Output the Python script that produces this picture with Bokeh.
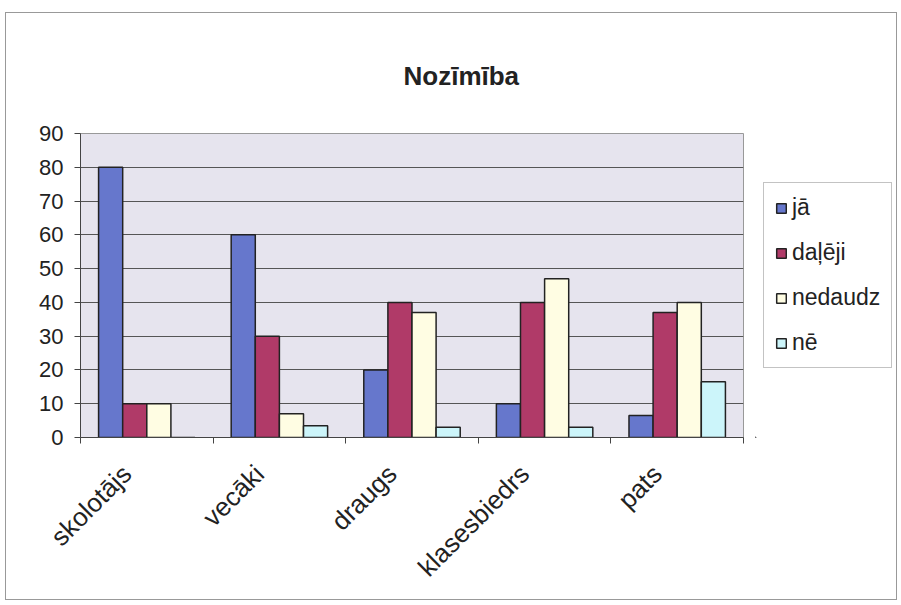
from math import pi
from bokeh.plotting import figure
from bokeh.layouts import row
from bokeh.models import (Range1d, Legend, LegendItem, FixedTicker, ColumnDataSource, LinearAxis)
from bokeh.transform import dodge
from bokeh.embed import file_html
from bokeh.resources import INLINE

categories = ["skolotājs", "vecāki", "draugs", "klasesbiedrs", "pats"]
series_names = ["jā", "daļēji", "nedaudz", "nē"]
ja = [80, 60, 20, 10, 6.5]
daleji = [10, 30, 40, 40, 37]
nedaudz = [10, 7, 37, 47, 40]
ne = [0, 3.5, 3, 3, 16.5]
y_ticks = [0, 10, 20, 30, 40, 50, 60, 70, 80, 90]

colors = ["#6677CC", "#B03A68", "#FFFDE3", "#CCF5FA"]
FONT = "Liberation Sans"

n_cat = len(categories)
cat_index = list(range(n_cat))
source = ColumnDataSource(dict(idx=cat_index, cat=categories, ja=ja, daleji=daleji, nedaudz=nedaudz, ne=ne))
fields = ["ja", "daleji", "nedaudz", "ne"]

p = figure(output_backend="svg", toolbar_location=None,
           x_range=Range1d(-0.5, n_cat - 0.5), y_range=Range1d(0, 90),
           x_axis_location=None,
           frame_width=663, frame_height=304,
           min_border_left=74, min_border_right=12, min_border_top=120, min_border_bottom=162)

p.title.text = "Nozīmība"
p.title.text_font = FONT
p.title.text_font_size = "26px"
p.title.text_font_style = "bold"
p.title.text_color = "#222"
p.title.align = "left"
p.title.offset = 323
p.title.standoff = 86

p.background_fill_color = "#E6E4EE"
p.border_fill_color = "white"
p.outline_line_color = "#999"

w = 1 / 5.5
offsets = [-1.5 * w, -0.5 * w, 0.5 * w, 1.5 * w]
renderers = []
for f, off, c in zip(fields, offsets, colors):
    r = p.vbar(x=dodge("idx", off), top=f, width=w, source=source,
               fill_color=c, line_color="#222", line_width=1.5)
    renderers.append(r)

p.xgrid.grid_line_color = None
p.ygrid.grid_line_color = "#555"
p.ygrid.grid_line_width = 1.2

p.yaxis.ticker = FixedTicker(ticks=y_ticks)
p.yaxis.major_label_text_font = FONT
p.yaxis.major_label_text_font_size = "22px"
p.yaxis.major_label_text_color = "#222"
p.yaxis.axis_line_color = "#444"
p.yaxis.major_tick_line_color = "#444"
p.yaxis.major_tick_out = 6
p.yaxis.major_tick_in = 0
p.yaxis.minor_tick_line_color = None
p.yaxis.major_label_standoff = 11

# category axis: tick marks between categories, names on a slightly shifted copy of the range
tick_axis = LinearAxis(ticker=FixedTicker(ticks=[i - 0.5 for i in range(n_cat + 1)]))
tick_axis.axis_line_color = "#444"
tick_axis.major_tick_line_color = "#444"
tick_axis.major_tick_out = 6
tick_axis.major_tick_in = 0
tick_axis.minor_tick_line_color = None
tick_axis.major_label_text_color = None
tick_axis.major_label_text_font_size = "1px"
tick_axis.major_label_standoff = 0
p.add_layout(tick_axis, "below")

p.extra_x_ranges = {"lbl": Range1d(-0.5 + 0.15, n_cat - 0.5 + 0.15)}
label_axis = LinearAxis(x_range_name="lbl", ticker=FixedTicker(ticks=cat_index),
                        major_label_overrides={i: c for i, c in zip(cat_index, categories)})
label_axis.axis_line_color = None
label_axis.major_tick_line_color = None
label_axis.minor_tick_line_color = None
label_axis.major_label_orientation = pi / 4
label_axis.major_label_text_font = FONT
label_axis.major_label_text_font_size = "26px"
label_axis.major_label_text_color = "#222"
label_axis.major_label_standoff = 20
p.add_layout(label_axis, "below")

# legend lives in a narrow companion figure (no axes) to the right of the chart;
# its swatch renderers sit outside that figure's visible range
pl = figure(output_backend="svg", toolbar_location=None, width=141, height=586,
            x_axis_type=None, y_axis_type=None, min_border=0,
            x_range=Range1d(0, 1), y_range=Range1d(0, 1))
pl.outline_line_color = None
pl.grid.grid_line_color = None
pl.background_fill_color = "white"
leg_renderers = []
for c in colors:
    leg_renderers.append(pl.vbar(x=[-5], top=[-5], width=1, fill_color=c,
                                 line_color="#222", line_width=1.5))

legend = Legend(items=[LegendItem(label=n, renderers=[r]) for n, r in zip(series_names, leg_renderers)],
                location=(8, 69), margin=0, padding=11,
                label_text_font=FONT, label_text_font_size="23px", label_text_color="#222",
                glyph_width=12, glyph_height=12, label_height=20, spacing=18,
                border_line_color="#888", border_line_width=1, label_standoff=5,
                background_fill_color="white")
pl.add_layout(legend, "center")

layout = row(p, pl)
layout.styles = {"border": "1px solid #999", "margin-left": "5px", "margin-top": "12px"}

open("out.html", "w").write(file_html(layout, INLINE))
